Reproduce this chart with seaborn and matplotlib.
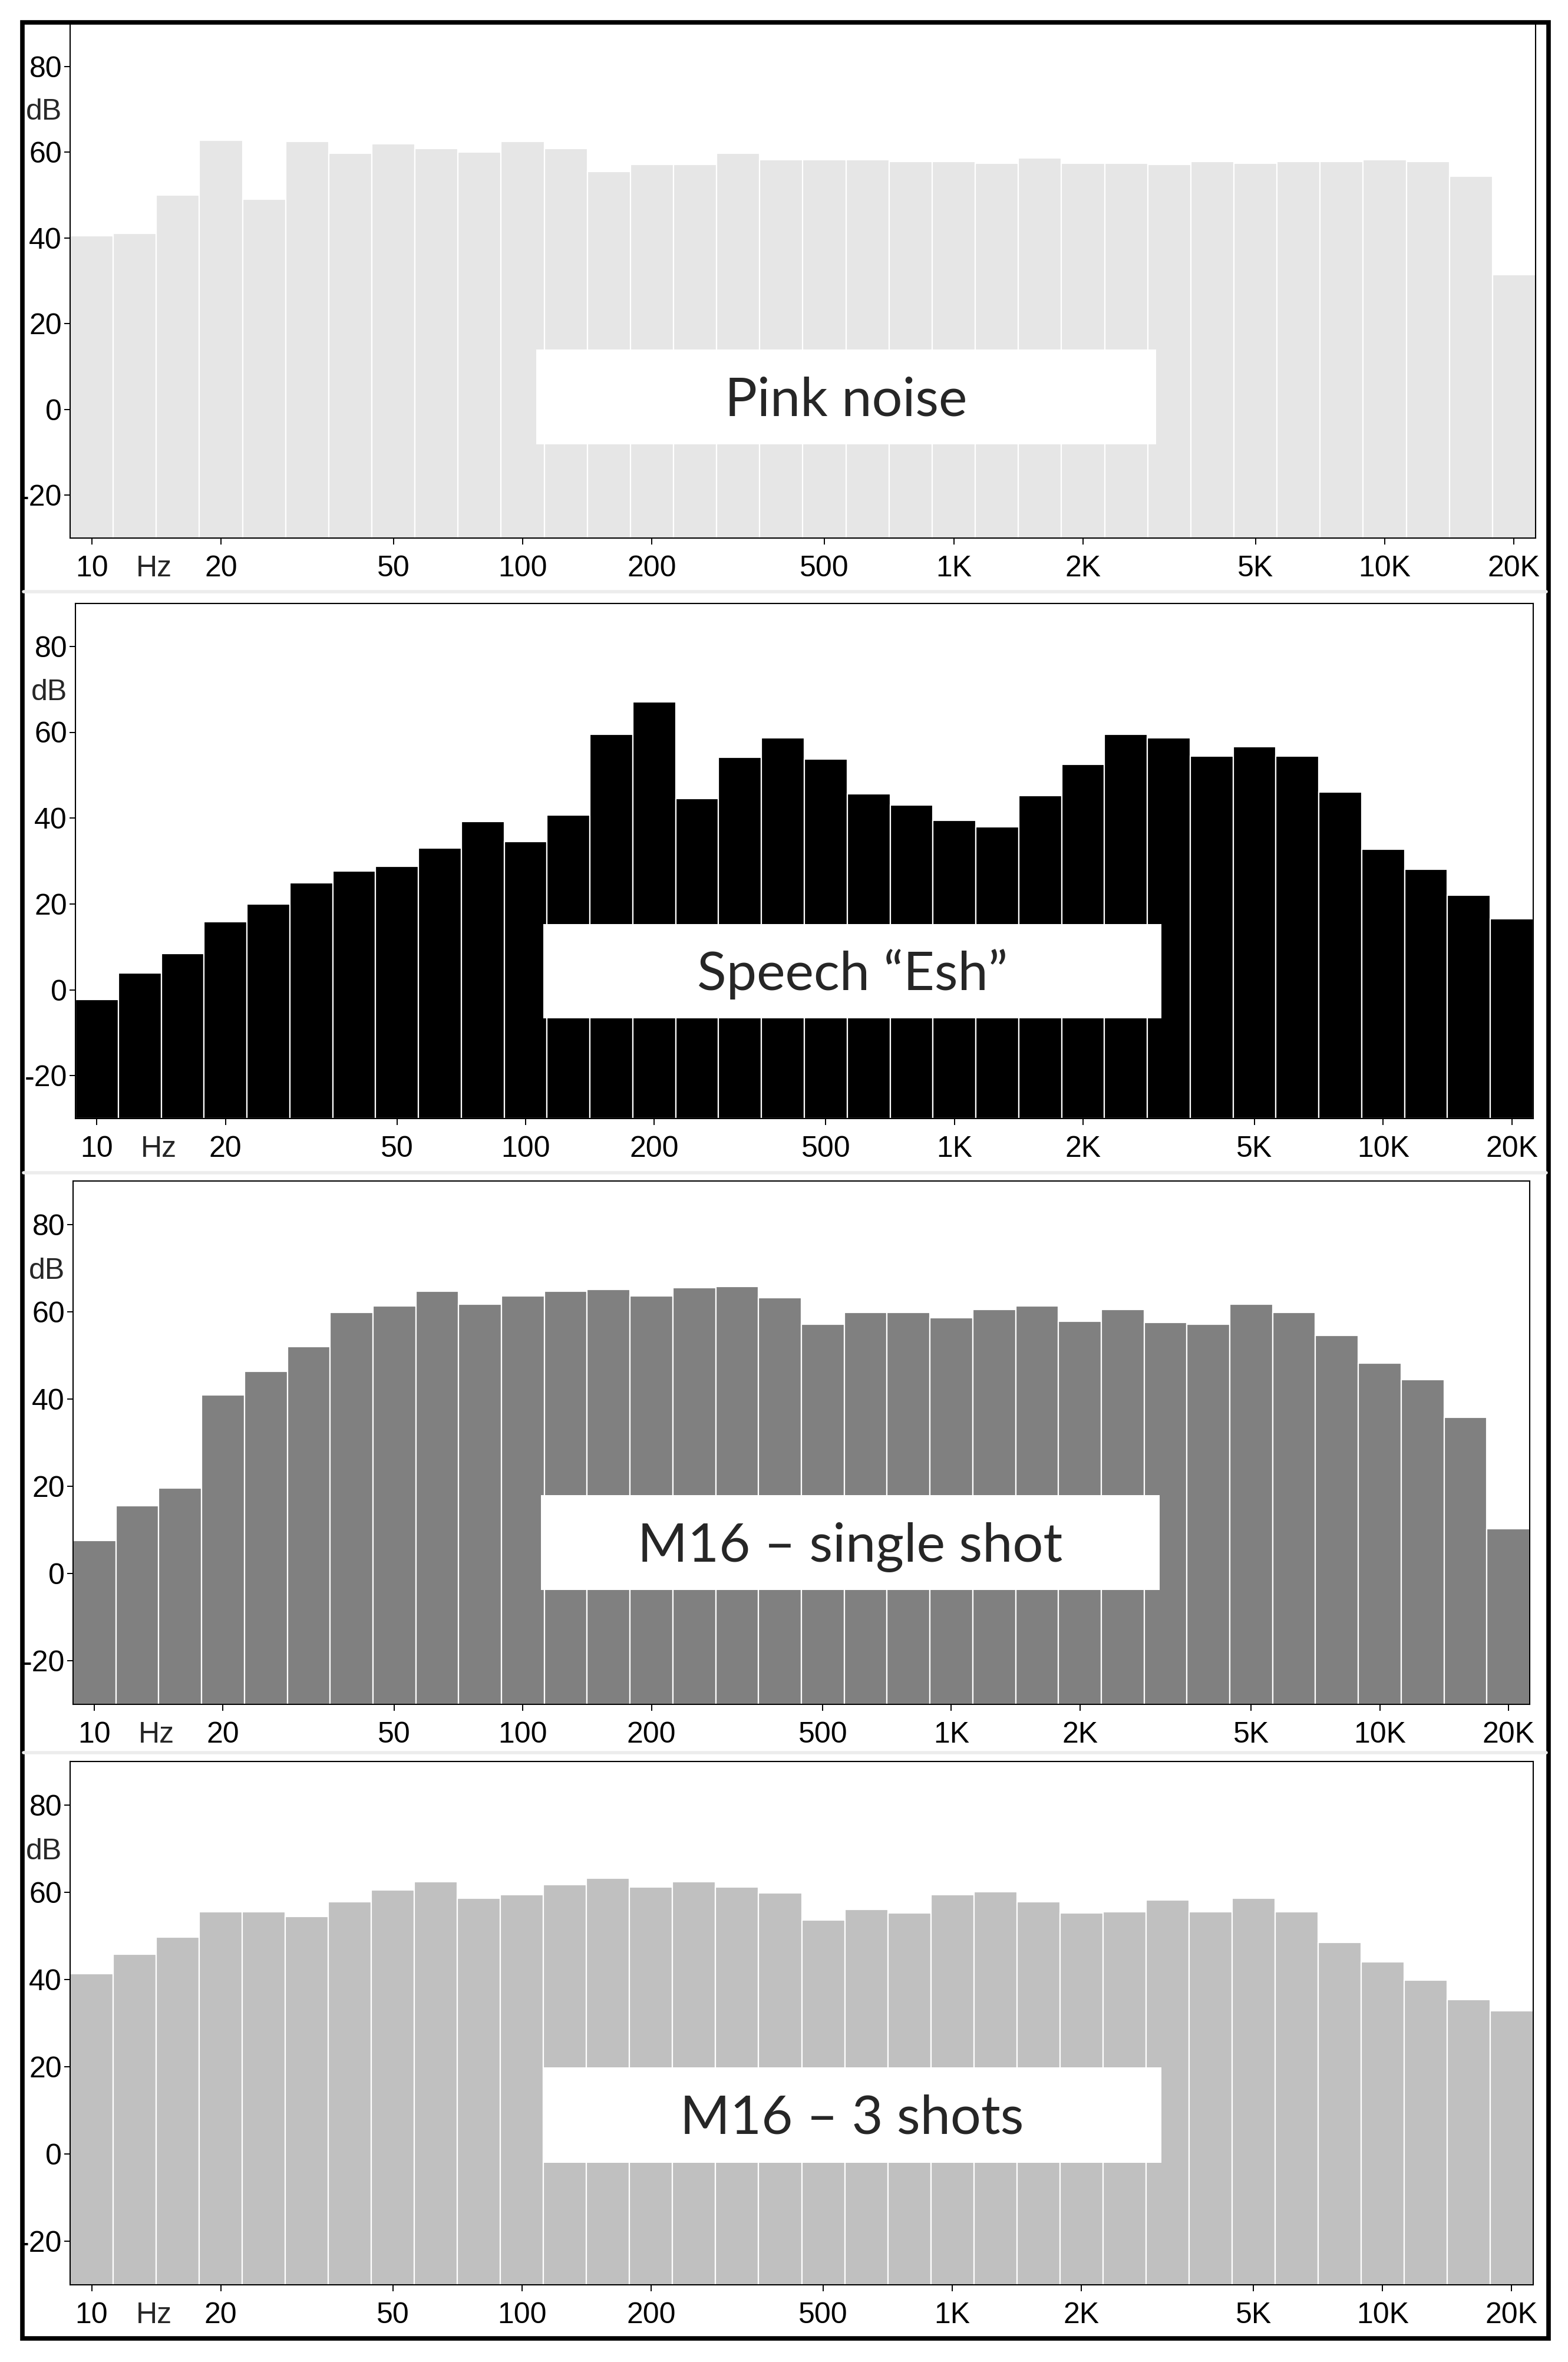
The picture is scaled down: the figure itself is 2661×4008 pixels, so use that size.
import numpy as np
import pandas as pd
import matplotlib
matplotlib.use("Agg")
import matplotlib.pyplot as plt
from matplotlib.patches import Rectangle
from matplotlib.lines import Line2D
import seaborn as sns

# third-octave bands 10 Hz .. 20 kHz
bands = ["10", "12.5", "16", "20", "25", "31.5", "40", "50", "63", "80",
         "100", "125", "160", "200", "250", "315", "400", "500", "630", "800",
         "1K", "1.25K", "1.6K", "2K", "2.5K", "3.15K", "4K", "5K", "6.3K", "8K",
         "10K", "12.5K", "16K", "20K"]
tick_bands = ["10", "20", "50", "100", "200", "500", "1K", "2K", "5K", "10K", "20K"]
yticks = [-20, 0, 20, 40, 60, 80]

# levels in dB
pink_noise = [40.5, 41.0, 50.0, 62.8, 49.0, 62.5, 59.8, 62.0, 60.9, 60.1,
              62.5, 60.9, 55.5, 57.1, 57.1, 59.8, 58.2, 58.2, 58.2, 57.8,
              57.8, 57.4, 58.6, 57.4, 57.4, 57.1, 57.8, 57.4, 57.8, 57.8,
              58.2, 57.8, 54.4, 31.4]
speech_esh = [-2.2, 3.9, 8.5, 15.8, 20.0, 24.9, 27.7, 28.8, 33.0, 39.2,
              34.5, 40.7, 59.5, 67.1, 44.5, 54.1, 58.7, 53.8, 45.7, 43.0,
              39.5, 38.0, 45.3, 52.5, 59.5, 58.7, 54.5, 56.7, 54.5, 46.0,
              32.7, 28.1, 22.0, 16.5]
m16_single = [7.6, 15.6, 19.6, 41.0, 46.3, 52.0, 59.8, 61.4, 64.7, 61.8,
              63.6, 64.7, 65.1, 63.6, 65.5, 65.8, 63.2, 57.1, 59.8, 59.8,
              58.7, 60.6, 61.4, 57.9, 60.6, 57.6, 57.1, 61.7, 59.8, 54.6,
              48.2, 44.5, 35.8, 10.3]
m16_three = [41.4, 45.8, 49.7, 55.6, 55.6, 54.5, 57.9, 60.5, 62.4, 58.6,
             59.4, 61.7, 63.2, 61.2, 62.4, 61.2, 59.8, 53.7, 56.1, 55.3,
             59.4, 60.1, 57.9, 55.3, 55.6, 58.3, 55.6, 58.6, 55.6, 48.5,
             44.0, 39.9, 35.4, 32.8]

titles = ["Pink noise", "Speech \u201cEsh\u201d", "M16 \u2013 single shot", "M16 \u2013 3 shots"]
series = [pink_noise, speech_esh, m16_single, m16_three]
bar_colors = ["#e6e6e6", "#000000", "#808080", "#c0c0c0"]

FLOOR = -30
W, H = 2661, 4008
TICK_FS = 36

# axes boxes in pixels: left, right, top, bottom
panel_px = [(119, 2606, 40, 913), (128, 2602, 1024, 1898),
            (124, 2596, 2004, 2892), (119, 2602, 2989, 3877)]
# label boxes in axes fraction: x0, x1, y0, y1
label_box = [(0.318, 0.741, 0.182, 0.367), (0.321, 0.745, 0.194, 0.378),
             (0.321, 0.746, 0.218, 0.400), (0.323, 0.746, 0.233, 0.416)]

sns.set_theme(style="ticks")
plt.rcParams["font.family"] = ["Liberation Sans", "DejaVu Sans"]

fig = plt.figure(figsize=(W / 100, H / 100), dpi=100)
fig.patch.set_facecolor("white")

for i in range(4):
    l, r, t, b = panel_px[i]
    ax = fig.add_axes([l / W, 1 - b / H, (r - l) / W, (b - t) / H])
    df = pd.DataFrame({"band": bands, "level": series[i]})
    df["height"] = df["level"] - FLOOR
    sns.barplot(data=df, x="band", y="height", order=bands, color=bar_colors[i],
                saturation=1, width=1.0, errorbar=None, edgecolor="white",
                linewidth=1.6, bottom=FLOOR, ax=ax)
    ax.set_ylim(FLOOR, 90)
    ax.set_xlim(-0.5, len(bands) - 0.5)
    ax.set_yticks(yticks)
    ax.set_yticklabels([str(v) for v in yticks])
    ax.set_xticks([bands.index(s) for s in tick_bands])
    ax.set_xticklabels(tick_bands)
    ax.set_xlabel("")
    ax.set_ylabel("")
    ax.tick_params(axis="y", length=7, width=1.4, pad=3, labelsize=TICK_FS, colors="black")
    ax.tick_params(axis="x", length=8, width=1.4, pad=13, labelsize=TICK_FS, colors="black")
    for sp in ax.spines.values():
        sp.set_visible(True)
        sp.set_color("black")
        sp.set_linewidth(1.5)

    ax.annotate("dB", xy=(0, 70), xycoords=("axes fraction", "data"),
                xytext=(-10, 0), textcoords="offset points",
                ha="right", va="center_baseline", fontsize=TICK_FS)
    ax.annotate("Hz", xy=(1.45, 0), xycoords=("data", "axes fraction"),
                xytext=(0, -21), textcoords="offset points",
                ha="center", va="top", fontsize=TICK_FS)

    x0, x1, y0, y1 = label_box[i]
    ax.add_patch(Rectangle((x0, y0), x1 - x0, y1 - y0, transform=ax.transAxes,
                           facecolor="white", edgecolor="none", zorder=5))
    ax.annotate(titles[i], xy=((x0 + x1) / 2, (y0 + y1) / 2), xycoords="axes fraction",
                xytext=(0, -23), textcoords="offset points",
                ha="center", va="baseline", fontsize=66,
                family=["Lato", "DejaVu Sans"], zorder=6)

# faint separators between panels
for yp in [1004, 1990, 2974]:
    fig.add_artist(Line2D([40 / W, 2624 / W], [1 - yp / H, 1 - yp / H],
                          transform=fig.transFigure, color="#ececec", linewidth=4))

# outer frame
fig.add_artist(Rectangle((37.5 / W, 1 - 3968 / H), (2627.5 - 37.5) / W, (3968 - 38) / H,
                         transform=fig.transFigure, fill=False, edgecolor="black",
                         linewidth=5.5))

fig.savefig("out.png", dpi=100, facecolor="white")
